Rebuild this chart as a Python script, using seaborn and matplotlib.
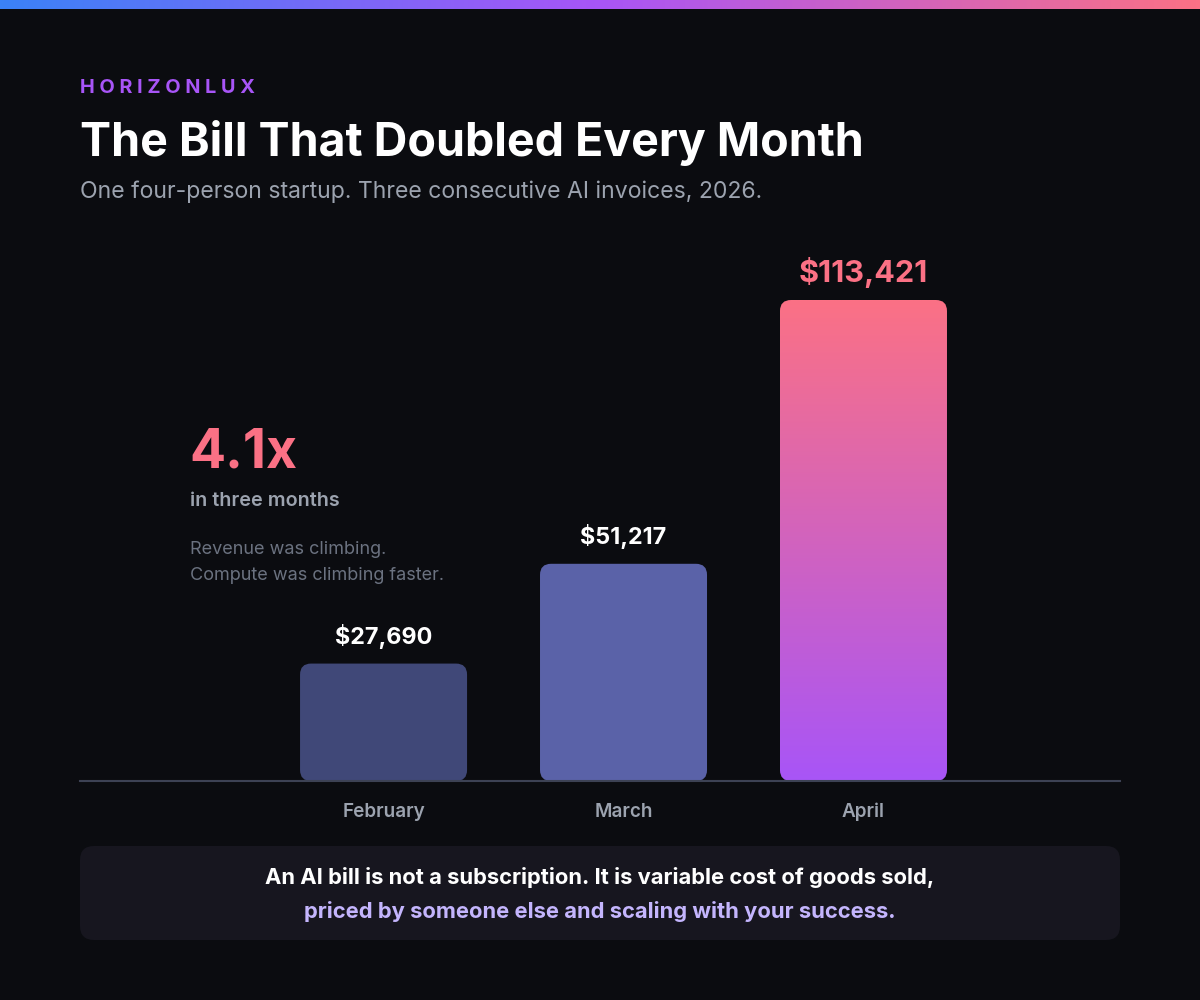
"""Bill that doubled every month: dark card-style bar chart."""

import matplotlib

matplotlib.use("Agg")

import matplotlib.pyplot as plt
import numpy as np
import pandas as pd
import seaborn as sns
from matplotlib.colors import LinearSegmentedColormap
from matplotlib.patches import FancyBboxPatch

# Data
months = ["February", "March", "April"]
invoices = [27690, 51217, 113421]
value_labels = ["$27,690", "$51,217", "$113,421"]

BG = "#0b0c10"
BAR_COLORS = ["#404878", "#5a62a8", None]  # April is a gradient
GRAD_TOP = "#fb7185"
GRAD_BOTTOM = "#a855f7"
PINK = "#fb7185"
GRAY = "#9ca3af"
GRAY_DIM = "#6b7280"

W, H = 1200, 1000

sns.set_theme(style="white")
plt.rcParams["font.family"] = ["Inter", "DejaVu Sans"]


def fx(x):
    return x / W


def fy(y):
    return 1 - y / H


fig = plt.figure(figsize=(12, 10), dpi=100, facecolor=BG)

# top gradient strip
strip = fig.add_axes([0, fy(9), 1, 9 / H])
strip_cmap = LinearSegmentedColormap.from_list(
    "strip", ["#3b82f6", "#a855f7", PINK]
)
strip.imshow(
    np.linspace(0, 1, 512)[None, :], aspect="auto", cmap=strip_cmap,
    extent=[0, 1, 0, 1],
)
strip.set_axis_off()

# header texts
fig.text(fx(80), fy(88), " ".join("HORIZONLUX"),
         color="#a855f7", fontsize=14.3, fontweight="bold", va="center",
         ha="left")
fig.text(fx(80), fy(143), "The Bill That Doubled Every Month", color="white",
         fontsize=33.5, fontweight="bold", va="center", ha="left")
fig.text(fx(80), fy(192),
         "One four-person startup. Three consecutive AI invoices, 2026.",
         color=GRAY, fontsize=16.6, va="center", ha="left")

# main chart axes: baseline at y=781, x from 80 to 1120
ax_top = 240
ax = fig.add_axes([fx(80), fy(781), (1120 - 80) / W, (781 - ax_top) / H])
ax.set_facecolor(BG)

df = pd.DataFrame({"month": months, "invoice": invoices})
sns.barplot(data=df, x="month", y="invoice", ax=ax, width=0.696,
            color="#5a62a8", saturation=1)

px_per_y = 481 / max(invoices)
ax.set_ylim(0, (781 - ax_top) / px_per_y)
ax.set_xlim(-1.265, 3.069)

x_per_px = 1 / 240
y_per_px = 1 / px_per_y
radius_px = 11

for i, bar in enumerate(list(ax.patches)):
    x0, w, h = bar.get_x(), bar.get_width(), bar.get_height()
    bar.remove()
    color = BAR_COLORS[i]
    patch = FancyBboxPatch(
        (x0, 0), w, h,
        boxstyle=f"round,pad=0,rounding_size={radius_px * x_per_px}",
        mutation_aspect=y_per_px / x_per_px,
        facecolor=color if color else "none", edgecolor="none", zorder=2,
    )
    ax.add_patch(patch)
    if color is None:
        grad_cmap = LinearSegmentedColormap.from_list(
            "bar", [GRAD_BOTTOM, GRAD_TOP]
        )
        im = ax.imshow(
            np.linspace(0, 1, 256)[:, None], cmap=grad_cmap, aspect="auto",
            extent=[x0, x0 + w, 0, h], origin="lower", zorder=2,
        )
        im.set_clip_path(patch)
    big = i == len(invoices) - 1
    ax.annotate(
        value_labels[i], (x0 + w / 2, h), xytext=(0, 28 if big else 27),
        textcoords="offset pixels", ha="center", va="center",
        color=PINK if big else "white", fontsize=22 if big else 16.8,
        fontweight="bold",
    )

ax.set_xlim(-1.265, 3.069)
ax.set_ylim(0, (781 - ax_top) / px_per_y)
ax.set_xlabel("")
ax.set_ylabel("")
ax.set_yticks([])
ax.set_xticks(range(len(months)))
ax.set_xticklabels(months, color=GRAY, fontsize=13.6, fontweight="semibold")
ax.tick_params(axis="x", length=0, pad=15.5)
for side in ["top", "left", "right"]:
    ax.spines[side].set_visible(False)
ax.spines["bottom"].set_color("#3d4254")
ax.spines["bottom"].set_linewidth(1.5)
ax.spines["bottom"].set_zorder(3)

# callout
ratio = invoices[-1] / invoices[0]
fig.text(fx(189), fy(453), f"{ratio:.1f}x", color=PINK, fontsize=38.5,
         fontweight="bold", va="center", ha="left")
fig.text(fx(190), fy(501), "in three months", color=GRAY, fontsize=14.2,
         fontweight="semibold", va="center", ha="left")
fig.text(fx(190), fy(549), "Revenue was climbing.", color=GRAY_DIM,
         fontsize=13, va="center", ha="left")
fig.text(fx(190), fy(576), "Compute was climbing faster.", color=GRAY_DIM,
         fontsize=13, va="center", ha="left")

# bottom note box
box = FancyBboxPatch(
    (fx(80), fy(940)), (1120 - 80) / W, (940 - 846) / H,
    boxstyle=f"round,pad=0,rounding_size={14 / W}",
    mutation_aspect=W / H, transform=fig.transFigure,
    facecolor="#17161f", edgecolor="none",
)
fig.patches.append(box)
fig.text(0.5, fy(878),
         "An AI bill is not a subscription. It is variable cost of goods sold,",
         color="white", fontsize=15.8, fontweight="bold", ha="center",
         va="center")
fig.text(0.5, fy(911), "priced by someone else and scaling with your success.",
         color="#c4b5fd", fontsize=15.8, fontweight="bold", ha="center",
         va="center")

fig.savefig("out.png", dpi=100, facecolor=BG)
